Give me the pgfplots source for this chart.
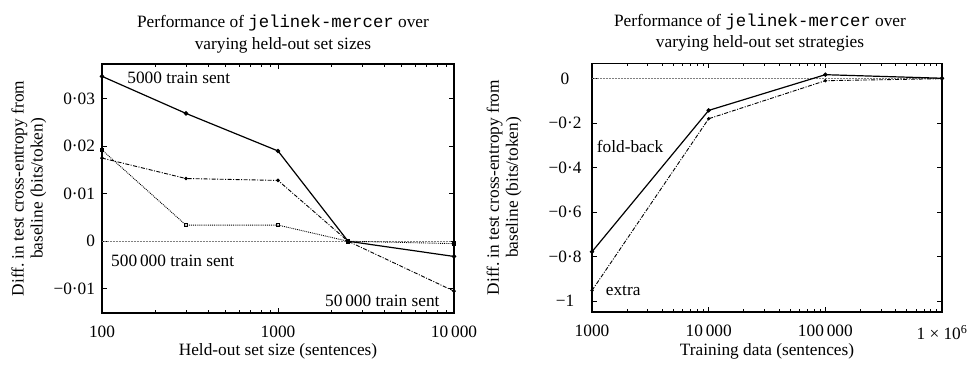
\documentclass[border=0pt]{standalone}
\usepackage{fontspec}
\setmainfont{Liberation Serif}
\setmonofont{Liberation Mono}
\usepackage{pgfplots}
\pgfplotsset{compat=1.18}

\pgfplotsset{
  jmframe/.style={
    scale only axis,
    scaled y ticks=false,
    axis line style={line width=1.3pt},
    every tick/.style={black, line width=0.8pt},
    major tick length=5pt,
    minor tick length=3pt,
    tick align=inside,
    tick pos=both,
    clip=false,
    title style={align=center, anchor=south, inner sep=0pt,
      font=\fontsize{17.3}{21.7}\selectfont},
    xlabel style={anchor=base, inner sep=0pt},
    ylabel style={align=center, anchor=center, inner sep=0pt,
      font=\fontsize{17.3}{19}\selectfont},
    xticklabel style={inner sep=1pt, yshift=-12pt},
  },
}

\begin{document}
\fontsize{17.3}{20}\selectfont
\begin{tikzpicture}
\useasboundingbox (0pt,0pt) rectangle (970pt,366pt);

% Left panel: varying held-out set size
\begin{axis}[
  xmode=log,
  jmframe,
  at={(102pt,53pt)}, anchor=south west,
  width=352pt, height=249pt,
  xmin=100, xmax=10000,
  ymin=-0.0151, ymax=0.0373,
  xtick={100,1000,10000},
  xticklabels={100,1000,10\,000},
  ytick={-0.01,0,0.01,0.02,0.03},
  yticklabels={−0·01,0,0·01,0·02,0·03},
  yticklabel style={xshift=-1pt},
  title={Performance of \texttt{jelinek-mercer} over\\varying held-out set sizes},
  title style={at={(axis description cs:0.514,1)}, yshift=5pt},
  xlabel={Held-out set size (sentences)},
  xlabel style={at={(axis description cs:0.5,0)}, yshift=-42.7pt},
  ylabel={Diff.\ in test cross-entropy from\\baseline (bits/token)},
  ylabel style={at={(axis description cs:-0.2074,0.5)}},
]
\addplot[gray, densely dotted, line width=0.5pt] coordinates {(100,0) (10000,0)};
% 5000 training sentences
\addplot[black, line width=1.2pt, mark=*, mark size=1.6pt]
  coordinates {(100,0.0347) (300,0.0269) (1000,0.0190) (2500,0) (10000,-0.0032)};
% 50000 training sentences
\addplot[black, dash pattern=on 4pt off 1.5pt on 1pt off 1.5pt, line width=0.9pt,
  mark=*, mark size=1.3pt, mark options={solid}]
  coordinates {(100,0.0175) (300,0.0132) (1000,0.0128) (2500,0) (10000,-0.0105)};
% 500000 training sentences
\addplot[black, densely dotted, line width=0.9pt, mark=square, mark size=1.8pt,
  mark options={solid, line width=0.8pt}]
  coordinates {(100,0.0192) (300,0.0034) (1000,0.0034) (2500,0) (10000,-0.0005)};
\node[anchor=base west, inner sep=0pt] at (axis cs:139,0.0333) {5000 train sent};
\node[anchor=base west, inner sep=0pt] at (axis cs:112.5,-0.00527) {500\,000 train sent};
\node[anchor=base west, inner sep=0pt] at (axis cs:1849,-0.0137) {50\,000 train sent};
\end{axis}

% Right panel: held-out set strategies
\begin{axis}[
  xmode=log,
  jmframe,
  at={(592pt,54pt)}, anchor=south west,
  width=350pt, height=248.8pt,
  xmin=1000, xmax=1000000,
  ymin=-1.049, ymax=0.0697,
  xtick={1000,10000,100000,1000000},
  xticklabels={1000,10\,000,100\,000,1 × 10\textsuperscript{6}},
  ytick={-1,-0.8,-0.6,-0.4,-0.2,0},
  yticklabels={−1,−0·8,−0·6,−0·4,−0·2,0},
  yticklabel style={anchor=center, xshift=-27pt},
  title={Performance of \texttt{jelinek-mercer} over\\varying held-out set strategies},
  title style={at={(axis description cs:0.48,1)}, yshift=5.5pt},
  xlabel={Training data (sentences)},
  xlabel style={at={(axis description cs:0.5,0)}, yshift=-43.7pt},
  ylabel={Diff.\ in test cross-entropy from\\baseline (bits/token)},
  ylabel style={at={(axis description cs:-0.2514,0.5)}},
]
\addplot[gray, densely dotted, line width=0.5pt] coordinates {(1000,0) (1000000,0)};
% fold-back
\addplot[black, line width=1.2pt, mark=*, mark size=1.5pt]
  coordinates {(1000,-0.778) (10000,-0.1426) (100000,0.018) (1000000,0.002)};
% extra
\addplot[black, dash pattern=on 4pt off 1.5pt on 1pt off 1.5pt, line width=0.9pt,
  mark=*, mark size=1.2pt, mark options={solid}]
  coordinates {(1000,-0.952) (10000,-0.180) (100000,-0.009) (1000000,0.0)};
\node[anchor=base west, inner sep=0pt] at (axis cs:1097,-0.334) {fold-back};
\node[anchor=base west, inner sep=0pt] at (axis cs:1310,-0.973) {extra};
\end{axis}
\end{tikzpicture}
\end{document}
